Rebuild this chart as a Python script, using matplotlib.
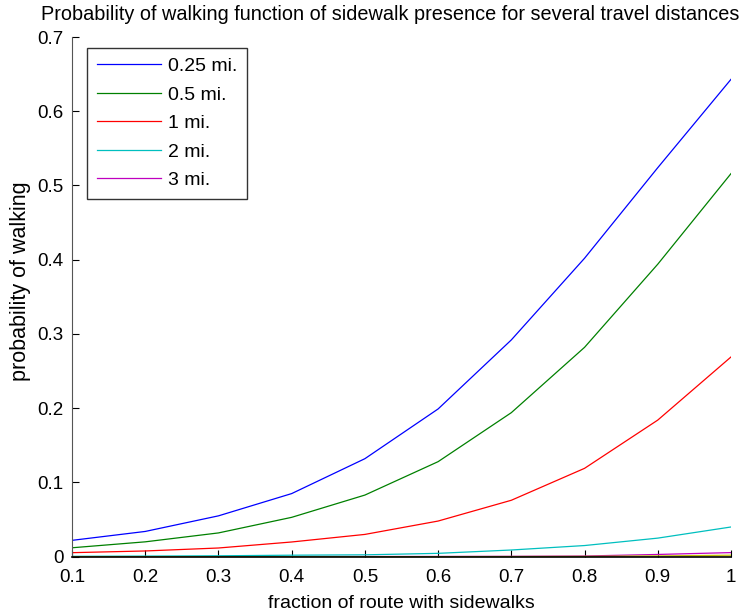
import matplotlib
matplotlib.use("Agg")
import matplotlib.pyplot as plt

x = [0.1, 0.2, 0.3, 0.4, 0.5, 0.6, 0.7, 0.8, 0.9, 1.0]
p_025 = [0.022, 0.034, 0.055, 0.085, 0.132, 0.199, 0.292, 0.402, 0.524, 0.643]
p_05 = [0.012, 0.020, 0.032, 0.053, 0.083, 0.128, 0.194, 0.282, 0.394, 0.516]
p_1 = [0.0054, 0.0077, 0.0117, 0.0198, 0.030, 0.048, 0.076, 0.119, 0.184, 0.269]
p_2 = [0.0005, 0.0008, 0.0012, 0.002, 0.0025, 0.0045, 0.009, 0.015, 0.025, 0.040]
p_3 = [0.0, 0.0, 0.0001, 0.0001, 0.0002, 0.0003, 0.0005, 0.0009, 0.003, 0.0055]
p_4 = [0.0, 0.0, 0.0, 0.0, 0.0, 0.0001, 0.0002, 0.0004, 0.001, 0.002]
p_5 = [0.0, 0.0, 0.0, 0.0, 0.0, 0.0, 0.0, 0.0, 0.0, 0.0]
labels = ["0.25 mi.", "0.5 mi.", "1 mi.", "2 mi.", "3 mi."]
colors = ["#0000ff", "#008000", "#ff0000", "#00bfbf", "#bf00bf", "#bfbf00", "#000000"]

plt.rcParams['font.family'] = ['Liberation Sans', 'DejaVu Sans']

fig = plt.figure(figsize=(7.44, 6.11), dpi=100)
ax = fig.add_axes([0.0968, 0.0889, 0.8857, 0.8505])

series = [p_025, p_05, p_1, p_2, p_3, p_4, p_5]
handles = []
for i, s in enumerate(series):
    h, = ax.plot(x, s, color=colors[i], lw=0.9)
    handles.append(h)

ax.set_xlim(0.1, 1.0)
ax.set_ylim(0, 0.7)
ax.set_xticks([0.1, 0.2, 0.3, 0.4, 0.5, 0.6, 0.7, 0.8, 0.9, 1.0])
ax.set_xticklabels(["0.1", "0.2", "0.3", "0.4", "0.5", "0.6", "0.7", "0.8", "0.9", "1"])
ax.set_yticks([0, 0.1, 0.2, 0.3, 0.4, 0.5, 0.6, 0.7])
ax.set_yticklabels(["0", "0.1", "0.2", "0.3", "0.4", "0.5", "0.6", "0.7"])
ax.tick_params(direction='in', length=5, width=0.8, labelsize=13.5, colors='black')
ax.tick_params(axis='x', pad=9)
ax.tick_params(axis='y', pad=6)
ax.spines['top'].set_visible(False)
ax.spines['right'].set_visible(False)
ax.spines['left'].set_color('#555555')
ax.spines['bottom'].set_color('black')
ax.spines['bottom'].set_linewidth(1.2)

ax.set_xlabel("fraction of route with sidewalks", fontsize=14, labelpad=6)
ax.set_ylabel("probability of walking", fontsize=15.5)
ax.yaxis.set_label_coords(-0.063, 0.531)
fig.text(390 / 744, 1 - 15 / 611,
         "Probability of walking function of sidewalk presence for several travel distances",
         fontsize=14.3, ha='center', va='center')

leg = ax.legend(handles[:5], labels, loc='upper left', bbox_to_anchor=(0.0225, 0.979),
                fontsize=14, frameon=True, fancybox=False, edgecolor='black',
                handlelength=3.3, handletextpad=0.35, labelspacing=0.56,
                borderpad=0.5, borderaxespad=0.0)
leg.get_frame().set_linewidth(1.0)

fig.savefig("out.png", dpi=100)
